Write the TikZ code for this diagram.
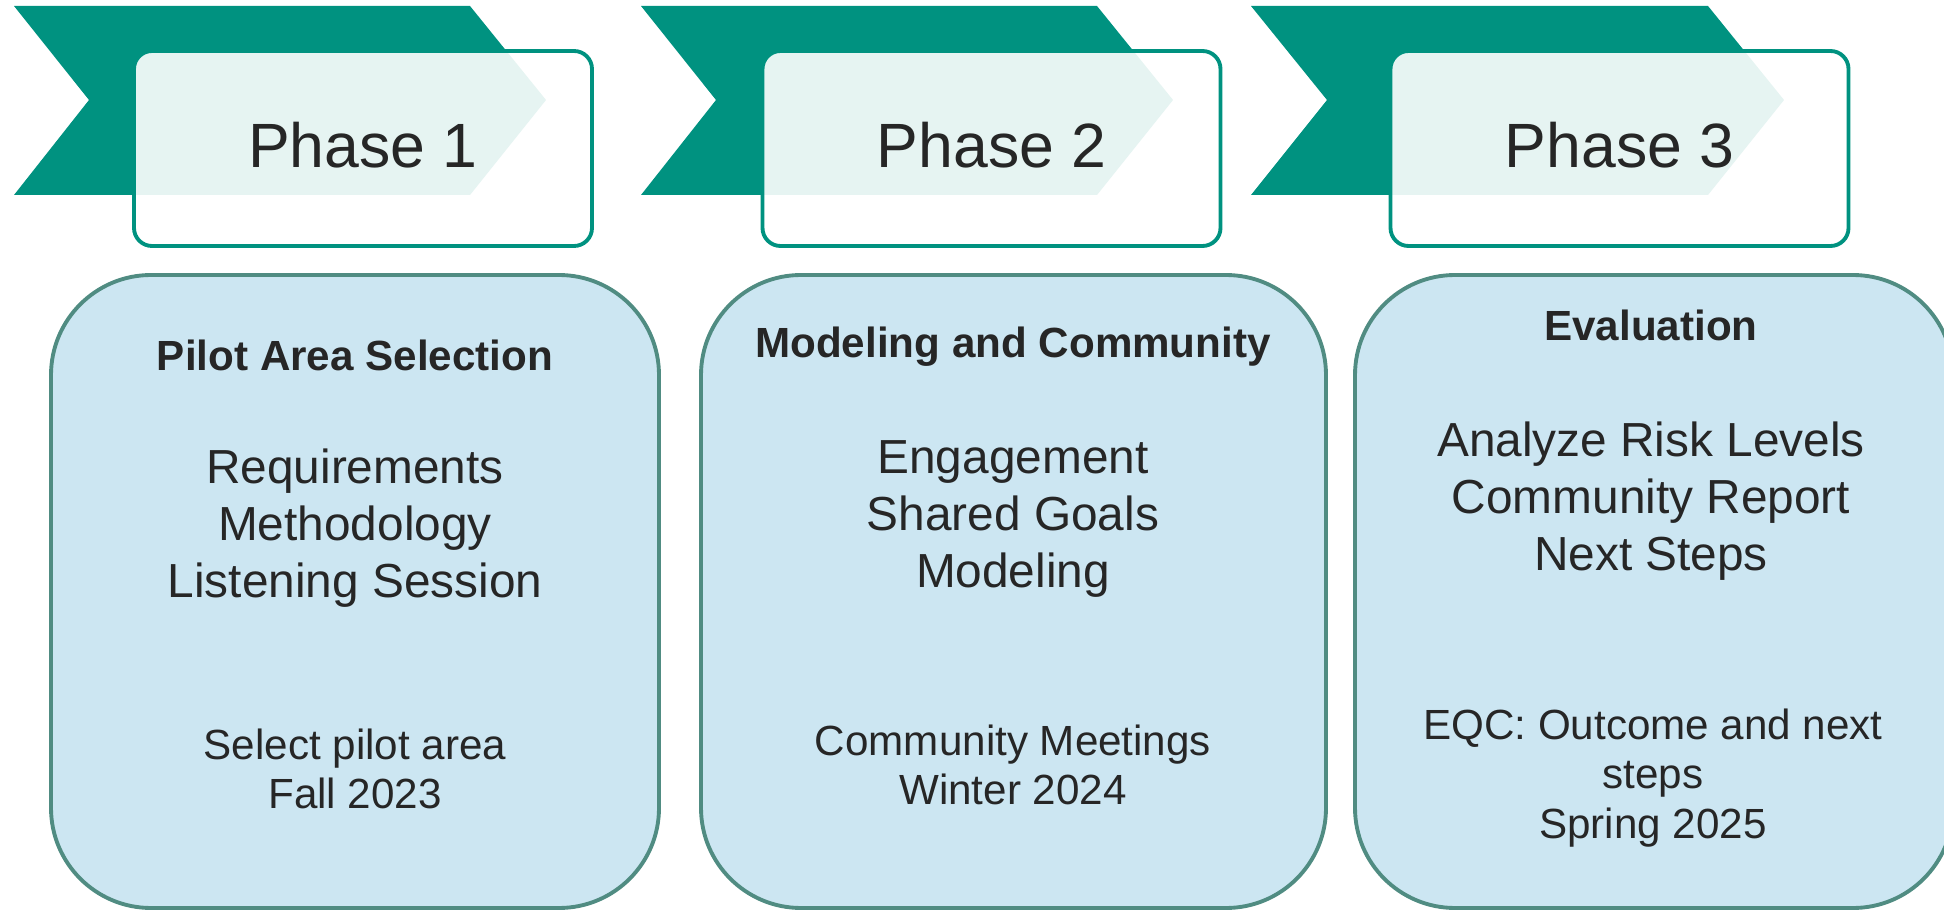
\documentclass[tikz,border=0pt]{standalone}
\usepackage{fontspec}
\setmainfont{Liberation Sans}
\usepackage{tikz}
\definecolor{chevteal}{RGB}{0,146,128}
\definecolor{boxline}{RGB}{80,140,130}
\definecolor{boxfill}{RGB}{204,230,242}
\definecolor{txtgray}{RGB}{38,38,38}

\begin{document}
\begin{tikzpicture}[x=0.1mm, y=-0.1mm,
    chev/.style={fill=chevteal},
    phasebox/.style={draw=chevteal, line width=1.1pt, fill=white, fill opacity=0.9, text opacity=1,
      rounded corners=1.8mm, minimum width=45.8mm, minimum height=19.5mm, inner sep=0pt,
      text=txtgray, font=\fontsize{17.8}{21}\selectfont},
    stagebox/.style={draw=boxline, line width=1.1pt, fill=boxfill, rounded corners=10mm,
      minimum height=63.3mm, inner sep=0pt},
    headtxt/.style={text=txtgray, font=\bfseries\fontsize{12}{14}\selectfont},
    itemtxt/.style={text=txtgray, align=center, font=\fontsize{13.6}{16.2}\selectfont},
    datetxt/.style={text=txtgray, align=center, font=\fontsize{12}{14}\selectfont}]
	  \useasboundingbox (0,0) rectangle (1944,912);

	  % chevrons
	  \fill [chev] (14,6) -- (470,6) -- (546,100) -- (470,195) -- (14,195) -- (89,100) -- cycle;
	  \fill [chev] (641,6) -- (1097,6) -- (1173,100) -- (1097,195) -- (641,195) -- (716,100) -- cycle;
	  \fill [chev] (1251,6) -- (1708,6) -- (1784,100) -- (1708,195) -- (1251,195) -- (1327,100) -- cycle;

	  \node [phasebox] (ph1) at (363,148.5)  {\raisebox{0.8mm}{Phase 1}};
	  \node [phasebox] (ph2) at (991.5,148.5) {\raisebox{0.8mm}{Phase 2}};
	  \node [phasebox] (ph3) at (1619.5,148.5) {\raisebox{0.8mm}{Phase 3}};

	  % stage boxes
	  \node [stagebox, minimum width=60.8mm] (st1) at (355,591.5)  {};
	  \node [stagebox, minimum width=62.5mm] (st2) at (1013.5,591.5) {};
	  \node [stagebox, minimum width=59.8mm] (st3) at (1654,591.5)  {};

	  \node [headtxt] (hd1) at (355,355) {Pilot Area Selection};
	  \node [itemtxt] (it1) at (355,528) {Requirements\\Methodology\\Listening Session};
	  \node [datetxt] (dt1) at (355,769) {Select pilot area\\Fall 2023};

	  \node [headtxt] (hd2) at (1013,347) {Modeling and Community};
	  \node [itemtxt] (it2) at (1013,519) {Engagement\\Shared Goals\\Modeling};
	  \node [datetxt] (dt2) at (1013,765) {Community Meetings\\Winter 2024};

	  \node [headtxt] (hd3) at (1651,325) {Evaluation};
	  \node [itemtxt] (it3) at (1651,501) {Analyze Risk Levels\\Community Report\\Next Steps};
	  \node [datetxt] (dt3) at (1653,778) {EQC: Outcome and next\\steps\\Spring 2025};
	\end{tikzpicture}
\end{document}
